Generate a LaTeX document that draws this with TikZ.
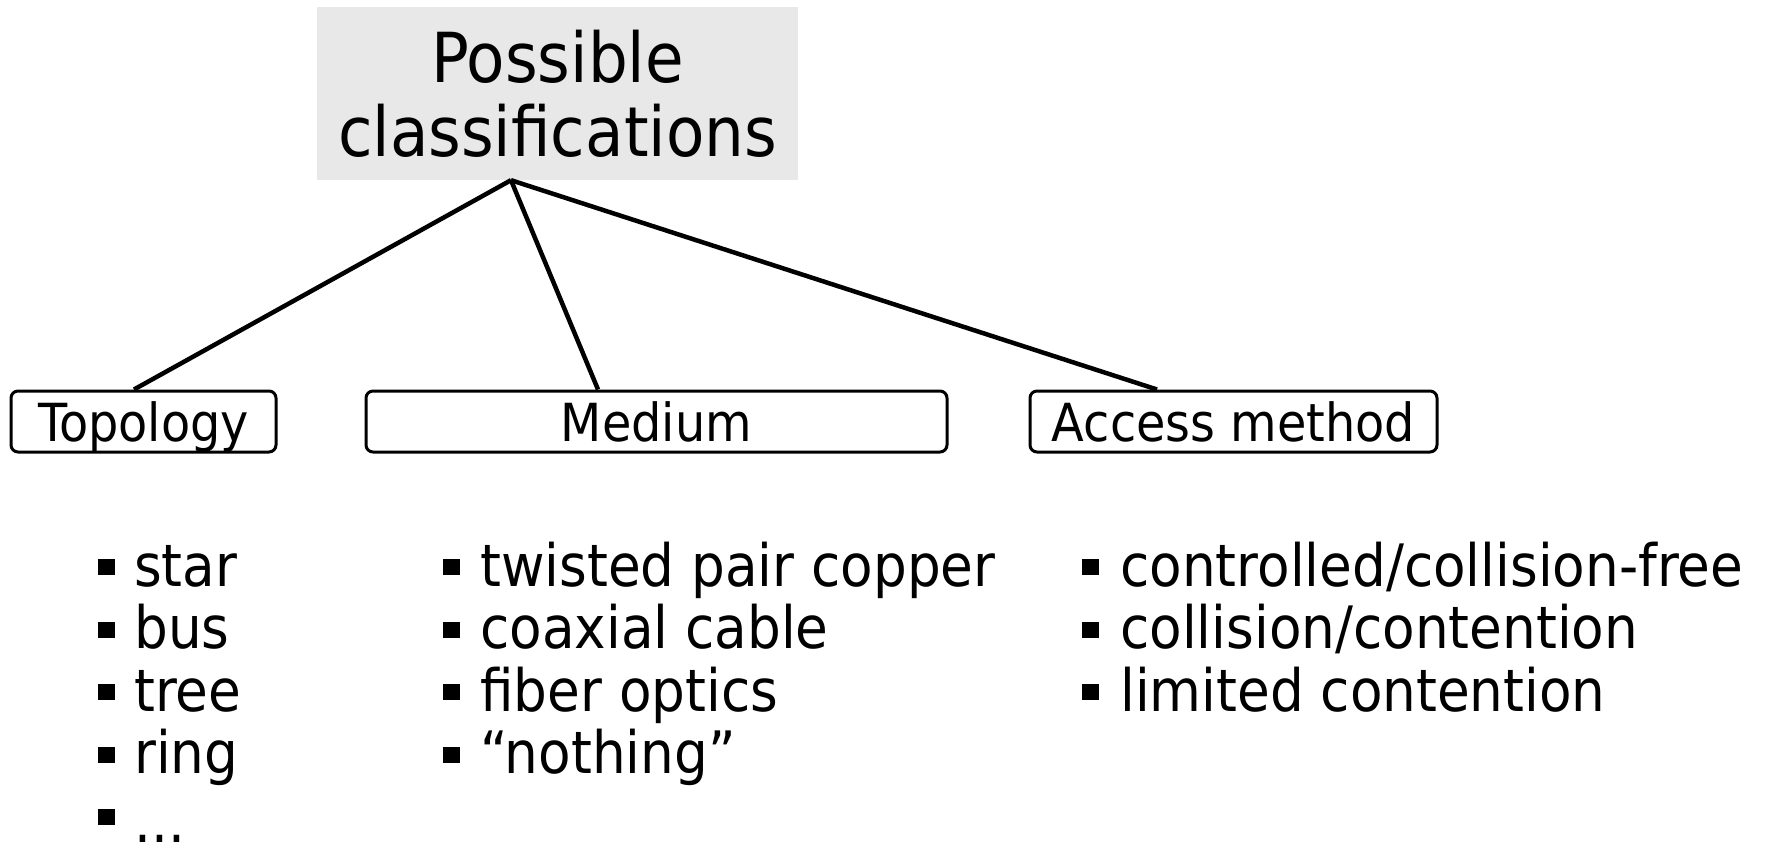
\documentclass[tikz,border=0pt]{standalone}
\usepackage{fontspec}
\setmainfont{DejaVu Sans}[FakeStretch=0.91]
\definecolor{titlegray}{RGB}{232,232,232}
\newcommand\titlesize{\fontsize{69}{74}\selectfont}
\newcommand\catsize{\fontsize{52.5}{60}\selectfont}
\newcommand\itemsize{\fontsize{58.5}{62.5}\selectfont}
\begin{document}
\begin{tikzpicture}[x=1pt,y=-1pt,
  titlebox/.style={fill=titlegray, minimum width=481, minimum height=173,
    inner sep=0, align=center, font=\titlesize},
  catbox/.style={draw, line width=3pt, rounded corners=7pt, minimum height=61,
    inner sep=0, text height=39, text depth=0, font=\catsize},
  itemtext/.style={anchor=base west, inner sep=0, font=\itemsize},
  sq/.style={fill=black, minimum width=17, minimum height=16, inner sep=0},
  link/.style={line width=4.5pt}]
\useasboundingbox (0,0) rectangle (1767,842);

% root of the classification tree
\node[titlebox] (title) at (557.5,93.5) {Possible\\classifications};

% the three classification criteria
\node[catbox, minimum width=265] (topo)   at (143.5,421.5)  {Topology};
\node[catbox, minimum width=581] (medium) at (656.5,421.5)  {Medium};
\node[catbox, minimum width=407] (access) at (1233.5,421.5) {Access method};

\coordinate (fork) at ([xshift=-46.5]title.south);
\draw[link] (fork) -- ([xshift=-9.5]topo.north);
\draw[link] (fork) -- ([xshift=-58.5]medium.north);
\draw[link] (fork) -- ([xshift=-76.5]access.north);

% topology examples
\foreach \txt [count=\i] in {star,bus,tree,ring}{
  \node[sq] (topo-b\i) at (106,{567+62.5*(\i-1)}) {};
  \node[itemtext] (topo-i\i) at (134,{586+62.5*(\i-1)}) {\txt};
}
\node[sq] (topo-b5) at (106,817) {};
\node[itemtext] (topo-i5) at (134,842) {...};

% transmission media
\foreach \txt [count=\i] in {twisted pair copper,coaxial cable,fiber optics,“nothing”}{
  \node[sq] (medium-b\i) at (451,{567+62.5*(\i-1)}) {};
  \node[itemtext] (medium-i\i) at (480,{586+62.5*(\i-1)}) {\txt};
}

% access methods
\foreach \txt [count=\i] in {controlled/collision-free,collision/contention,limited contention}{
  \node[sq] (access-b\i) at (1090,{567+62.5*(\i-1)}) {};
  \node[itemtext] (access-i\i) at (1120,{586+62.5*(\i-1)}) {\txt};
}
\end{tikzpicture}
\end{document}
